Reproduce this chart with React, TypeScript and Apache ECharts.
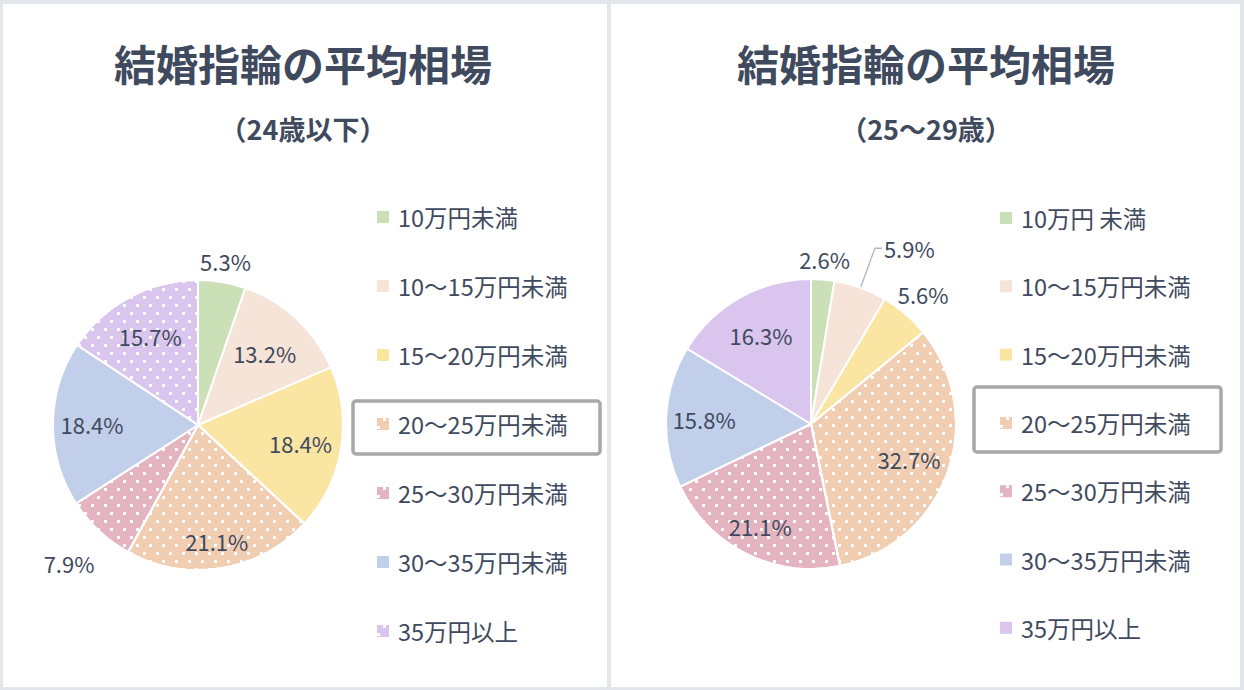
import React, { useEffect, useRef } from 'react';
import * as echarts from 'echarts';

const TITLE = '結婚指輪の平均相場';
const LEFT_SUBTITLE = '（24歳以下）';
const RIGHT_SUBTITLE = '（25～29歳）';

const LEFT_CATEGORIES = ['10万円未満', '10～15万円未満', '15～20万円未満', '20～25万円未満', '25～30万円未満', '30～35万円未満', '35万円以上'];
const RIGHT_CATEGORIES = ['10万円 未満', '10～15万円未満', '15～20万円未満', '20～25万円未満', '25～30万円未満', '30～35万円未満', '35万円以上'];

const LEFT_VALUES = [5.3, 13.2, 18.4, 21.1, 7.9, 18.4, 15.7];
const RIGHT_VALUES = [2.6, 5.9, 5.6, 32.7, 21.1, 15.8, 16.3];

const LEFT_DOTTED = [false, false, false, true, true, false, true];
const RIGHT_DOTTED = [false, false, false, true, true, false, false];

const COLORS = ['#cce0b8', '#f6e4d8', '#fbe5a3', '#f1cdb1', '#e4b4c1', '#c1cfea', '#dac5ee'];

// label distance from centre (style), null = outside label with leader line
const LEFT_LABEL_R: (number | null)[] = [163, 95, 101, 115, 186, 103, 98];
const RIGHT_LABEL_R: (number | null)[] = [163, null, 169, 101, 111, 104, 99];

const TEXT = '#3f4a5e';
const FONT = '"Noto Sans CJK JP", "Noto Sans", sans-serif';
const PIE_R = 145;

const DOTS = {
  symbol: 'rect',
  symbolSize: 1,
  color: 'rgba(255,255,255,0.95)',
  dashArrayX: [[2.5, 9.5], [0, 6, 2.5, 3.5]],
  dashArrayY: [2.5, 5],
  rotation: 0,
};

function makeLabelLayout(values: number[], radii: (number | null)[]) {
  const total = values.reduce((a, b) => a + b, 0);
  return (params: any) => {
    const i = params.dataIndex;
    const R = radii[i];
    if (R == null) return {};
    let cum = 0;
    for (let j = 0; j < i; j++) cum += values[j];
    const mid = ((cum + values[i] / 2) / total) * Math.PI * 2;
    const shift = R - PIE_R / 2;
    return { dx: shift * Math.sin(mid), dy: -shift * Math.cos(mid) };
  };
}

function pieSeries(cats: string[], vals: number[], dotted: boolean[], center: number[], radii: (number | null)[]) {
  return {
    type: 'pie',
    center,
    radius: PIE_R,
    startAngle: 90,
    clockwise: true,
    avoidLabelOverlap: false,
    silent: true,
    itemStyle: { borderColor: '#ffffff', borderWidth: 2 },
    label: {
      show: true,
      position: 'inside',
      formatter: '{c}%',
      color: TEXT,
      fontSize: 22,
      fontFamily: FONT,
    },
    labelLine: { show: false },
    labelLayout: makeLabelLayout(vals, radii),
    data: cats.map((name, i) => {
      const item: any = {
        name,
        value: vals[i],
        itemStyle: { color: COLORS[i], decal: dotted[i] ? DOTS : 'none' },
      };
      if (radii[i] == null) {
        item.label = { position: 'outside', distanceToLabelLine: 2 };
        item.labelLine = { show: true, length: 42, length2: 7, lineStyle: { color: '#aab5c8', width: 1.3 } };
      }
      return item;
    }),
  };
}

function legendOpt(cats: string[], dotted: boolean[], left: number, top: number, gap: number) {
  return {
    orient: 'vertical',
    left,
    top,
    padding: 0,
    itemWidth: 12,
    itemHeight: 12,
    itemGap: gap,
    icon: 'rect',
    selectedMode: false,
    itemStyle: { borderWidth: 0 },
    textStyle: { fontSize: 23.5, color: TEXT, fontFamily: FONT, lineHeight: 24, padding: [0, 0, 0, 4] },
    data: cats.map((name, i) => (dotted[i] ? { name } : { name, itemStyle: { decal: 'none', borderWidth: 0 } })),
  };
}

function titleOpt(sub: string, left: number) {
  return {
    text: TITLE,
    subtext: sub,
    left,
    top: 40,
    textAlign: 'center',
    padding: 0,
    itemGap: 29,
    textStyle: { fontSize: 42, fontWeight: 'bold', color: TEXT, fontFamily: FONT, lineHeight: 44 },
    subtextStyle: { fontSize: 27, fontWeight: 'bold', color: TEXT, fontFamily: FONT, lineHeight: 30 },
  };
}

export default function App() {
  const ref = useRef<HTMLDivElement>(null);
  useEffect(() => {
    if (!ref.current) return;
    const chart = echarts.init(ref.current, undefined, { renderer: 'svg' });
    chart.setOption({
      animation: false,
      backgroundColor: '#e3e6ea',
      title: [titleOpt(LEFT_SUBTITLE, 303), titleOpt(RIGHT_SUBTITLE, 926)],
      legend: [
        legendOpt(LEFT_CATEGORIES, LEFT_DOTTED, 377, 205, 45),
        legendOpt(RIGHT_CATEGORIES, RIGHT_DOTTED, 1000, 206, 44.3),
      ],
      graphic: [
        { type: 'rect', z: -10, silent: true, shape: { x: 3, y: 4, width: 604, height: 683 }, style: { fill: '#ffffff' } },
        { type: 'rect', z: -10, silent: true, shape: { x: 611, y: 4, width: 629, height: 683 }, style: { fill: '#ffffff' } },
        { type: 'rect', z: 100, silent: true, shape: { x: 353, y: 401, width: 247, height: 53, r: 3 }, style: { fill: 'none', stroke: '#a8a8a8', lineWidth: 3.5 } },
        { type: 'rect', z: 100, silent: true, shape: { x: 974, y: 387, width: 247, height: 65, r: 3 }, style: { fill: 'none', stroke: '#a8a8a8', lineWidth: 3.5 } },
      ],
      series: [
        pieSeries(LEFT_CATEGORIES, LEFT_VALUES, LEFT_DOTTED, [198, 425], LEFT_LABEL_R),
        pieSeries(RIGHT_CATEGORIES, RIGHT_VALUES, RIGHT_DOTTED, [811, 424], RIGHT_LABEL_R),
      ],
    });
    return () => chart.dispose();
  }, []);
  return (
    <div
      ref={ref}
      style={{ position: 'fixed', left: 0, top: 0, width: 1244, height: 690 }}
    />
  );
}
